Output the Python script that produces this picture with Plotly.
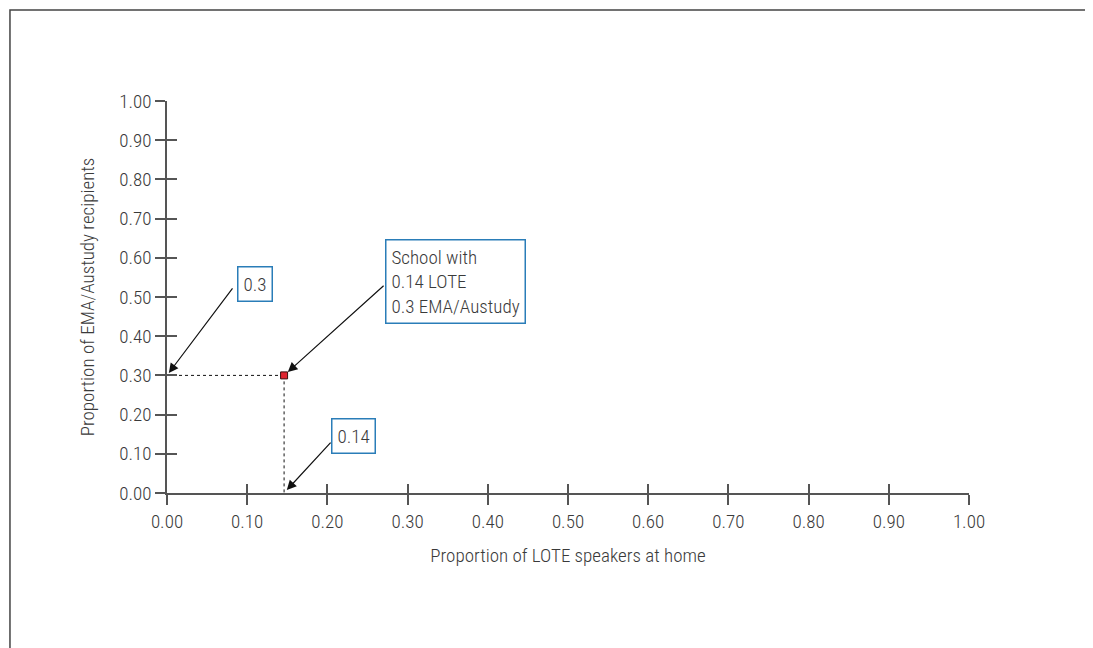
import plotly.graph_objects as go

# ---- data ----
lote_share = [0.146]        # proportion of LOTE speakers at home (school point)
ema_share = [0.30]          # proportion of EMA/Austudy recipients
tick_vals = [0.0, 0.1, 0.2, 0.3, 0.4, 0.5, 0.6, 0.7, 0.8, 0.9, 1.0]
tick_text = ["0.00", "0.10", "0.20", "0.30", "0.40", "0.50", "0.60", "0.70", "0.80", "0.90", "1.00"]
label_y = "0.3"
label_x = "0.14"
label_school = "School with<br>0.14 LOTE<br>0.3 EMA/Austudy"
x_title = "Proportion of LOTE speakers at home"
y_title = "Proportion of EMA/Austudy recipients"

FONT = "Roboto Condensed Light, Roboto Condensed, Liberation Sans Narrow, Arial Narrow, sans-serif"
FS = 19
W = 300
TXT = "#3a3a3a"
AX = "#555555"
BLUE = "#2a7db8"

px0, py0 = lote_share[0], ema_share[0]

fig = go.Figure()

# dotted guide lines
fig.add_trace(go.Scatter(x=[0, px0], y=[py0, py0], mode="lines",
                         line=dict(color="#111111", width=1, dash="dot"),
                         hoverinfo="skip", showlegend=False))
fig.add_trace(go.Scatter(x=[px0, px0], y=[py0, 0], mode="lines",
                         line=dict(color="#111111", width=1, dash="dot"),
                         hoverinfo="skip", showlegend=False))
# the school point
fig.add_trace(go.Scatter(x=lote_share, y=ema_share, mode="markers",
                         marker=dict(symbol="square", size=7, color="#e02430",
                                     line=dict(color="#3a1010", width=1)),
                         showlegend=False))
# dummy trace for the inside-tick overlay axes
fig.add_trace(go.Scatter(x=[None], y=[None], xaxis="x2", yaxis="y2",
                         mode="markers", showlegend=False, hoverinfo="skip"))

axis_common = dict(range=[0, 1], tickvals=tick_vals, showgrid=False, zeroline=False)
tfont = dict(family=FONT, size=FS, color=TXT, weight=W)

fig.update_layout(
    width=1093, height=648,
    margin=dict(l=159, r=132, t=93, b=163),
    paper_bgcolor="white", plot_bgcolor="white",
    font=tfont,
    xaxis=dict(**axis_common, ticktext=tick_text, ticks="outside", ticklen=10,
               tickwidth=1.5, tickcolor=AX, showline=True, linecolor=AX, linewidth=1.5,
               tickfont=tfont,
               title=dict(text=x_title, font=tfont, standoff=17)),
    yaxis=dict(**axis_common, ticktext=tick_text, ticks="outside", ticklen=10,
               tickwidth=1.5, tickcolor=AX, showline=True, linecolor=AX, linewidth=1.5,
               tickfont=tfont,
               title=dict(text=y_title, font=tfont, standoff=20)),
    xaxis2=dict(**axis_common, overlaying="x", anchor="y", side="bottom",
                ticks="inside", ticklen=9, tickwidth=1.5, tickcolor=AX,
                showticklabels=False, showline=False),
    yaxis2=dict(**axis_common, overlaying="y", anchor="x", side="left",
                ticks="inside", ticklen=10, tickwidth=1.5, tickcolor=AX,
                showticklabels=False, showline=False),
    showlegend=False,
)

# outer frame
fig.add_shape(type="rect", xref="paper", yref="paper",
              x0=-0.1958, x1=1.1459, y0=-0.45, y1=1.232,
              line=dict(color="#444444", width=1.5), fillcolor="rgba(0,0,0,0)")

arrow = dict(showarrow=True, arrowhead=2, arrowsize=1.6, arrowwidth=1.2,
             arrowcolor="#111111", text=" ", font=dict(size=1),
             axref="pixel", ayref="pixel")

# arrows
fig.add_annotation(x=0, y=py0, ax=67, ay=-89, standoff=3, **arrow)
fig.add_annotation(x=px0, y=py0, ax=101, ay=-91, standoff=5, **arrow)
fig.add_annotation(x=px0, y=0, ax=48, ay=-52, standoff=4, **arrow)

box = dict(showarrow=False, bordercolor=BLUE, borderwidth=1.5, borderpad=5,
           bgcolor="white", font=tfont)

fig.add_annotation(x=0, y=py0, xshift=87.5, yshift=91.5, text=label_y, **box)
fig.add_annotation(x=px0, y=0, xshift=69.5, yshift=57, text=label_x, **box)
fig.add_annotation(x=px0, y=py0, xshift=100.5, yshift=94, text=label_school,
                   xanchor="left", yanchor="middle", align="left", **box)

fig.write_html("out.html")
